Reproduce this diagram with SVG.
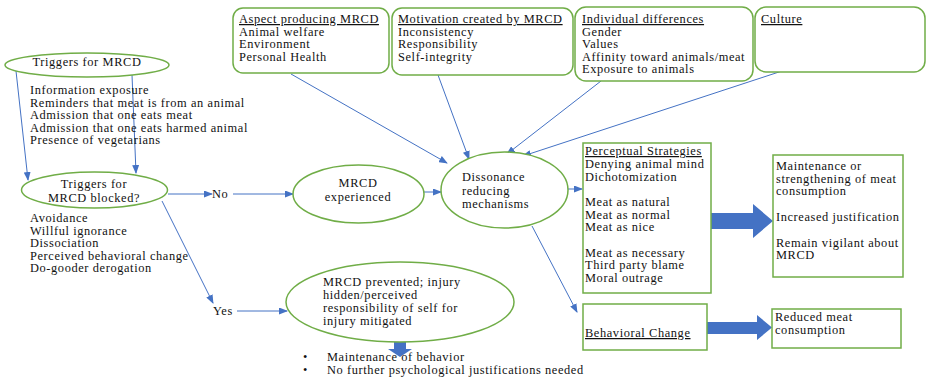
<svg xmlns="http://www.w3.org/2000/svg" width="927" height="378" viewBox="0 0 927 378">
<style>
text{font-family:"Liberation Serif","Times New Roman","DejaVu Serif",serif;font-size:12.4px;letter-spacing:0.6px;fill:#111}
.c{text-anchor:middle}
.u{text-decoration:underline}
.el{fill:#fff;stroke:#70AD47;stroke-width:1.5}
.bx{fill:#fff;stroke:#70AD47;stroke-width:1.5}
.ln{stroke:#4472C4;stroke-width:1;fill:none}
.blk{fill:#4472C4}
</style>
<defs>
<marker id="ah" markerUnits="userSpaceOnUse" markerWidth="9" markerHeight="7" refX="8" refY="3.5" orient="auto">
<path d="M0,0 L9,3.5 L0,7 z" fill="#4472C4"/>
</marker>
</defs>
<rect width="927" height="378" fill="#fff"/>

<g id="connectors">
<line class="ln" x1="16" y1="71" x2="28" y2="180" marker-end="url(#ah)"/>
<line class="ln" x1="132" y1="75" x2="136" y2="173" marker-end="url(#ah)"/>
<line class="ln" x1="168" y1="194" x2="212" y2="194" marker-end="url(#ah)"/>
<line class="ln" x1="233" y1="194" x2="293" y2="194" marker-end="url(#ah)"/>
<line class="ln" x1="162" y1="201" x2="213" y2="303" marker-end="url(#ah)"/>
<line class="ln" x1="237" y1="311" x2="287" y2="311" marker-end="url(#ah)"/>
<line class="ln" x1="424" y1="192" x2="441" y2="192" marker-end="url(#ah)"/>
<line class="ln" x1="291" y1="74" x2="447" y2="163" marker-end="url(#ah)"/>
<line class="ln" x1="438" y1="75" x2="469" y2="159" marker-end="url(#ah)"/>
<line class="ln" x1="601" y1="81" x2="507" y2="154" marker-end="url(#ah)"/>
<line class="ln" x1="782" y1="71" x2="523" y2="156" marker-end="url(#ah)"/>
<line class="ln" x1="568" y1="189" x2="582" y2="189" marker-end="url(#ah)"/>
<line class="ln" x1="532" y1="226" x2="577" y2="312" marker-end="url(#ah)"/>
<polygon class="blk" points="711,213 753,213 753,204 773,221 753,238 753,229 711,229"/>
<polygon class="blk" points="707,322 757,322 757,315 772,327.5 757,340 757,334 707,334"/>
<polygon class="blk" points="394,342 406,342 406,349 412,349 400,357 388,349 394,349"/>
</g>

<g id="triggers">
<ellipse class="el" cx="87" cy="65" rx="82" ry="12"/>
<text class="c" x="87" y="66">Triggers for MRCD</text>
</g>

<g id="trigger-list">
<text><tspan x="30" y="94">Information exposure</tspan><tspan x="30" y="106.5">Reminders that meat is from an animal</tspan><tspan x="30" y="119">Admission that one eats meat</tspan><tspan x="30" y="131.5">Admission that one eats harmed animal</tspan><tspan x="30" y="144">Presence of vegetarians</tspan></text>
</g>

<g id="blocked">
<ellipse class="el" cx="94.5" cy="190" rx="73" ry="18"/>
<text class="c"><tspan x="94" y="188">Triggers for</tspan><tspan x="94" y="202">MRCD blocked?</tspan></text>
</g>

<g id="blocking-list">
<text><tspan x="30" y="222">Avoidance</tspan><tspan x="30" y="234.5">Willful ignorance</tspan><tspan x="30" y="247">Dissociation</tspan><tspan x="30" y="259.5">Perceived behavioral change</tspan><tspan x="30" y="272">Do-gooder derogation</tspan></text>
</g>

<g id="label-no"><text x="212" y="198">No</text></g>
<g id="label-yes"><text x="213" y="315">Yes</text></g>

<g id="mrcd-experienced">
<ellipse class="el" cx="358.5" cy="194" rx="65.5" ry="29"/>
<text class="c"><tspan x="358" y="187">MRCD</tspan><tspan x="358" y="201">experienced</tspan></text>
</g>

<g id="dissonance">
<ellipse class="el" cx="504.5" cy="190" rx="63.5" ry="38"/>
<text><tspan x="462" y="181">Dissonance</tspan><tspan x="462" y="194.5">reducing</tspan><tspan x="462" y="208">mechanisms</tspan></text>
</g>

<g id="aspect">
<rect class="bx" x="233" y="8" width="156" height="65" rx="10"/>
<text><tspan class="u" x="239" y="23">Aspect producing MRCD</tspan><tspan x="239" y="35.5">Animal welfare</tspan><tspan x="239" y="48">Environment</tspan><tspan x="239" y="60.5">Personal Health</tspan></text>
</g>

<g id="motivation">
<rect class="bx" x="392" y="8" width="181" height="67" rx="10"/>
<text><tspan class="u" x="398" y="23">Motivation created by MRCD</tspan><tspan x="398" y="35.5">Inconsistency</tspan><tspan x="398" y="48">Responsibility</tspan><tspan x="398" y="60.5">Self-integrity</tspan></text>
</g>

<g id="individual">
<rect class="bx" x="575" y="7" width="178" height="74" rx="11"/>
<text><tspan class="u" x="582" y="23">Individual differences</tspan><tspan x="582" y="35.5">Gender</tspan><tspan x="582" y="48">Values</tspan><tspan x="582" y="60.5">Affinity toward animals/meat</tspan><tspan x="582" y="73">Exposure to animals</tspan></text>
</g>

<g id="culture">
<rect class="bx" x="755" y="7" width="170" height="65" rx="11"/>
<text class="u" x="761" y="23">Culture</text>
</g>

<g id="perceptual">
<rect class="bx" x="583" y="143" width="128" height="150"/>
<text><tspan class="u" x="585" y="155">Perceptual Strategies</tspan><tspan x="585" y="168">Denying animal mind</tspan><tspan x="585" y="180.5">Dichotomization</tspan><tspan x="585" y="206">Meat as natural</tspan><tspan x="585" y="218.5">Meat as normal</tspan><tspan x="585" y="231">Meat as nice</tspan><tspan x="585" y="256.5">Meat as necessary</tspan><tspan x="585" y="269">Third party blame</tspan><tspan x="585" y="281.5">Moral outrage</tspan></text>
</g>

<g id="outcome">
<rect class="bx" x="773" y="155" width="130" height="122"/>
<text><tspan x="776" y="170">Maintenance or</tspan><tspan x="776" y="182.5">strengthening of meat</tspan><tspan x="776" y="195">consumption</tspan><tspan x="776" y="221">Increased justification</tspan><tspan x="776" y="246.5">Remain vigilant about</tspan><tspan x="776" y="259">MRCD</tspan></text>
</g>

<g id="behavioral">
<rect class="bx" x="583" y="304" width="124" height="46"/>
<text class="u" x="585" y="337">Behavioral Change</text>
</g>

<g id="reduced">
<rect class="bx" x="772" y="309" width="129" height="39"/>
<text><tspan x="775" y="320.5">Reduced meat</tspan><tspan x="775" y="334">consumption</tspan></text>
</g>

<g id="prevented">
<ellipse class="el" cx="400" cy="302" rx="114" ry="40"/>
<text><tspan x="323" y="286">MRCD prevented; injury</tspan><tspan x="323" y="298.5">hidden/perceived</tspan><tspan x="323" y="311.5">responsibility of self for</tspan><tspan x="323" y="324.5">injury mitigated</tspan></text>
</g>

<g id="results">
<text><tspan x="303" y="361">•</tspan><tspan x="327" y="361">Maintenance of behavior</tspan><tspan x="303" y="374">•</tspan><tspan x="327" y="374">No further psychological justifications needed</tspan></text>
</g>
</svg>
